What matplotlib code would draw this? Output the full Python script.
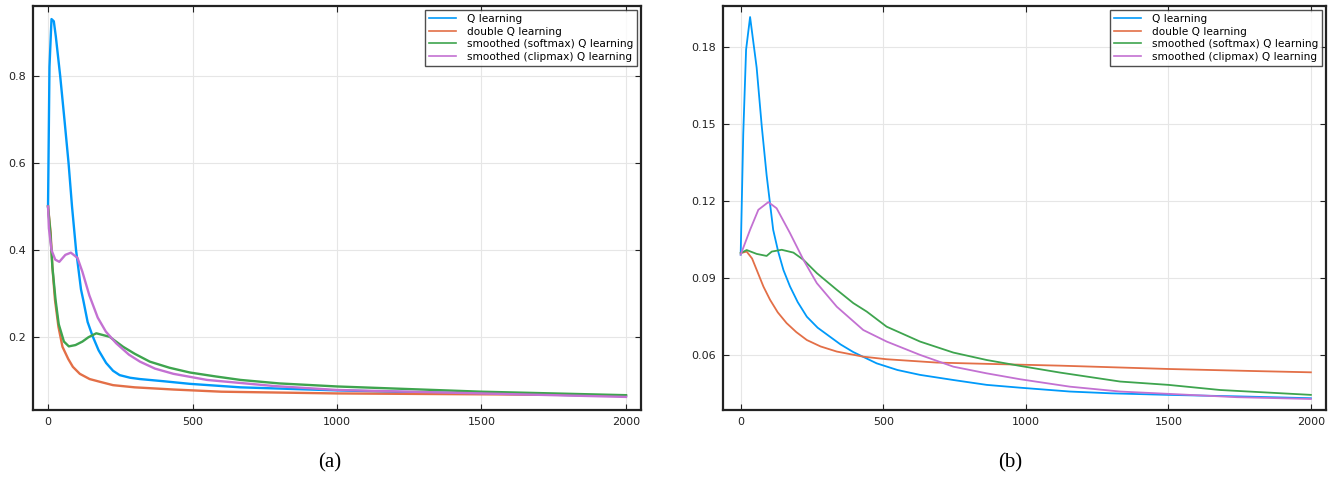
import matplotlib
matplotlib.use("Agg")
import matplotlib.pyplot as plt

labels = ["Q learning", "double Q learning", "smoothed (softmax) Q learning", "smoothed (clipmax) Q learning"]
colors = ["#009AFA", "#E36F47", "#3EA44E", "#C371D2"]

# ---- panel (a) ----
a_q_x = [0, 5, 12, 20, 27, 42, 57, 71, 83, 97, 114, 122, 137, 154, 175, 201, 225, 248, 284, 318, 400, 491, 666, 1000, 1250, 1500, 1750, 2000]
a_q_y = [0.50, 0.82, 0.930, 0.925, 0.890, 0.80, 0.698, 0.60, 0.50, 0.40, 0.310, 0.285, 0.235, 0.203, 0.170, 0.141, 0.123, 0.113, 0.107, 0.104, 0.099, 0.093, 0.085, 0.078, 0.074, 0.071, 0.068, 0.065]

a_d_x = [0, 9, 15, 24, 36, 50, 70, 86, 110, 144, 178, 225, 300, 434, 600, 1000, 1250, 1500, 1750, 2000]
a_d_y = [0.50, 0.44, 0.362, 0.286, 0.224, 0.178, 0.150, 0.132, 0.116, 0.104, 0.098, 0.090, 0.085, 0.080, 0.075, 0.071, 0.070, 0.069, 0.068, 0.066]

a_s_x = [0, 8, 15, 26, 37, 55, 72, 95, 119, 140, 167, 213, 260, 300, 352, 420, 491, 580, 666, 800, 1000, 1250, 1500, 1750, 2000]
a_s_y = [0.50, 0.44, 0.362, 0.286, 0.23, 0.190, 0.179, 0.182, 0.19, 0.200, 0.209, 0.201, 0.178, 0.162, 0.144, 0.130, 0.119, 0.110, 0.102, 0.094, 0.087, 0.081, 0.075, 0.071, 0.067]

a_c_x = [0, 3, 12, 25, 39, 60, 79, 102, 119, 143, 172, 200, 236, 280, 318, 370, 434, 550, 782, 1000, 1250, 1500, 1750, 2000]
a_c_y = [0.50, 0.45, 0.40, 0.378, 0.373, 0.389, 0.394, 0.382, 0.350, 0.296, 0.245, 0.213, 0.186, 0.160, 0.144, 0.128, 0.116, 0.102, 0.088, 0.079, 0.075, 0.071, 0.067, 0.063]

# ---- panel (b) ----
b_q_x = [0, 9, 19, 33, 56, 74, 91, 114, 132, 150, 173, 200, 232, 270, 313, 350, 395, 477, 550, 629, 746, 863, 980, 1155, 1300, 1500, 1750, 2000]
b_q_y = [0.099, 0.146, 0.179, 0.1917, 0.172, 0.149, 0.1300, 0.1087, 0.100, 0.093, 0.0866, 0.0805, 0.0748, 0.0705, 0.067, 0.0640, 0.061, 0.0566, 0.0540, 0.0521, 0.0501, 0.0482, 0.0471, 0.0456, 0.0449, 0.0443, 0.0437, 0.0430]

b_d_x = [0, 21, 40, 56, 80, 103, 130, 161, 195, 232, 280, 337, 430, 512, 688, 863, 1120, 1500, 1799, 2000]
b_d_y = [0.0996, 0.1002, 0.0975, 0.0931, 0.0865, 0.0814, 0.0765, 0.0723, 0.0688, 0.0657, 0.0632, 0.0612, 0.0592, 0.0582, 0.0569, 0.0564, 0.0557, 0.0544, 0.0536, 0.0531]

b_s_x = [0, 21, 56, 91, 109, 144, 185, 220, 267, 337, 395, 442, 512, 629, 746, 863, 980, 1120, 1331, 1500, 1682, 2000]
b_s_y = [0.0996, 0.1008, 0.0993, 0.0985, 0.1002, 0.1009, 0.0998, 0.0970, 0.0918, 0.0853, 0.0801, 0.0768, 0.0709, 0.0651, 0.0608, 0.0579, 0.0556, 0.0530, 0.0495, 0.0482, 0.0462, 0.0443]

b_c_x = [0, 33, 62, 97, 126, 173, 220, 267, 337, 430, 512, 629, 746, 863, 980, 1155, 1331, 1500, 1740, 2000]
b_c_y = [0.099, 0.1087, 0.1165, 0.1195, 0.1171, 0.1074, 0.0970, 0.0879, 0.0787, 0.0696, 0.0651, 0.0599, 0.0553, 0.0527, 0.0504, 0.0475, 0.0456, 0.0447, 0.0434, 0.0427]

a_yticks = [0.2, 0.4, 0.6, 0.8]
a_yticklabels = ["0.2", "0.4", "0.6", "0.8"]
b_yticks = [0.06, 0.09, 0.12, 0.15, 0.18]
b_yticklabels = ["0.06", "0.09", "0.12", "0.15", "0.18"]
xticks = [0, 500, 1000, 1500, 2000]
xticklabels = ["0", "500", "1000", "1500", "2000"]

W, H = 1338, 478
fig = plt.figure(figsize=(W / 100, H / 100), dpi=100)

def make_axes(l, r, t, b):
    return fig.add_axes([l / W, 1 - b / H, (r - l) / W, (b - t) / H])

axA = make_axes(33, 641, 6, 410)
axB = make_axes(723, 1326, 6, 410)

def style(ax, xlim, ylim, yt, ytl):
    ax.set_xlim(*xlim)
    ax.set_ylim(*ylim)
    ax.set_xticks(xticks)
    ax.set_xticklabels(xticklabels)
    ax.set_yticks(yt)
    ax.set_yticklabels(ytl)
    ax.grid(True, color="#e6e6e6", linewidth=0.8)
    ax.set_axisbelow(True)
    ax.tick_params(direction="in", length=4, width=0.8, labelsize=8, colors="#222222",
                   top=True, right=True, pad=5)
    for s in ax.spines.values():
        s.set_linewidth(1.6)
        s.set_color("#222222")
    leg = ax.legend(loc="upper right", fontsize=7.6, frameon=True, fancybox=False,
                    borderpad=0.35, labelspacing=0.25, handlelength=2.6,
                    handletextpad=1.0, borderaxespad=0.4)
    leg.get_frame().set_edgecolor("#222222")
    leg.get_frame().set_linewidth(1.0)
    for line in leg.get_lines():
        line.set_linewidth(1.2)

series_a = [(a_q_x, a_q_y), (a_d_x, a_d_y), (a_s_x, a_s_y), (a_c_x, a_c_y)]
series_b = [(b_q_x, b_q_y), (b_d_x, b_d_y), (b_s_x, b_s_y), (b_c_x, b_c_y)]

for (x, y), c, lab in zip(series_a, colors, labels):
    axA.plot(x, y, color=c, linewidth=1.7, label=lab)
for (x, y), c, lab in zip(series_b, colors, labels):
    axB.plot(x, y, color=c, linewidth=1.3, label=lab)

style(axA, (-52, 2052), (0.033, 0.96), a_yticks, a_yticklabels)
style(axB, (-62, 2053), (0.0384, 0.196), b_yticks, b_yticklabels)

fig.text(330 / W, 1 - 463 / H, "(a)", ha="center", va="center", fontsize=15, family="Liberation Serif")
fig.text(1010 / W, 1 - 463 / H, "(b)", ha="center", va="center", fontsize=15, family="Liberation Serif")

fig.savefig("out.png", dpi=100)
